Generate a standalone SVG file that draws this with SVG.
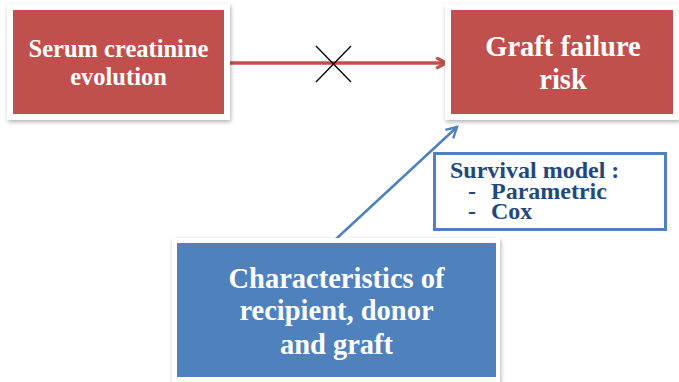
<svg xmlns="http://www.w3.org/2000/svg" width="679" height="382" viewBox="0 0 679 382">
  <defs>
    <filter id="shadow" x="-10%" y="-10%" width="125%" height="130%">
      <feDropShadow dx="1" dy="2" stdDeviation="2" flood-color="#000" flood-opacity="0.3"/>
    </filter>
    <marker id="headRed" viewBox="0 0 12 12" refX="10" refY="6" markerWidth="13" markerHeight="13" markerUnits="userSpaceOnUse" orient="auto">
      <path d="M1,1 L10,6 L1,11" fill="none" stroke="#C0504D" stroke-width="3"/>
    </marker>
    <marker id="headBlue" viewBox="0 0 12 12" refX="10" refY="6" markerWidth="14" markerHeight="14" markerUnits="userSpaceOnUse" orient="auto">
      <path d="M1,1 L10,6 L1,11" fill="none" stroke="#4F81BD" stroke-width="2"/>
    </marker>
  </defs>
  <style>
    .frame { fill: #ffffff; filter: url(#shadow); }
    .red { fill: #C0504D; }
    .blue { fill: #4F81BD; }
    .wt { fill: #ffffff; font-family: "Liberation Serif", "Times New Roman", serif; font-weight: bold; text-anchor: middle; }
    .dt { fill: #1F497D; font-family: "Liberation Serif", "Times New Roman", serif; font-weight: bold; font-size: 24px; }
  </style>

  <rect x="0" y="0" width="679" height="382" fill="#ffffff"/>

  <g id="connectors">
    <line x1="226" y1="63" x2="446" y2="63" stroke="#C0504D" stroke-width="3.5" marker-end="url(#headRed)"/>
    <path d="M316,46 L351,82 M351,46 L316,82" stroke="#000" stroke-width="1.3" fill="none"/>
    <line x1="336" y1="239" x2="457" y2="127" stroke="#4F81BD" stroke-width="2.5" marker-end="url(#headBlue)"/>
  </g>

  <g id="serum">
    <rect class="frame" x="7" y="4" width="223" height="116"/>
    <rect class="red" x="13" y="10" width="211" height="104"/>
    <text class="wt" font-size="24.5" x="118.5" y="57">Serum creatinine</text>
    <text class="wt" font-size="24.5" x="118.5" y="85">evolution</text>
  </g>

  <g id="graft">
    <rect class="frame" x="445" y="4" width="234" height="116"/>
    <rect class="red" x="451" y="10" width="222" height="104"/>
    <text class="wt" font-size="28.5" x="563" y="56">Graft failure</text>
    <text class="wt" font-size="28.5" x="563" y="89">risk</text>
  </g>

  <g id="survival">
    <rect x="434.5" y="153.5" width="231" height="76" fill="#ffffff" stroke="#4F81BD" stroke-width="3"/>
    <text class="dt" x="450" y="178">Survival model :</text>
    <text class="dt" x="468" y="199">-</text>
    <text class="dt" x="491" y="199">Parametric</text>
    <text class="dt" x="468" y="219">-</text>
    <text class="dt" x="491" y="219">Cox</text>
  </g>

  <g id="characteristics">
    <rect class="frame" x="172" y="238" width="328" height="150"/>
    <rect class="blue" x="177" y="243" width="319" height="134"/>
    <text class="wt" font-size="28.5" x="336.5" y="288">Characteristics of</text>
    <text class="wt" font-size="28.5" x="336.5" y="320">recipient, donor</text>
    <text class="wt" font-size="28.5" x="336.5" y="354">and graft</text>
  </g>
</svg>
